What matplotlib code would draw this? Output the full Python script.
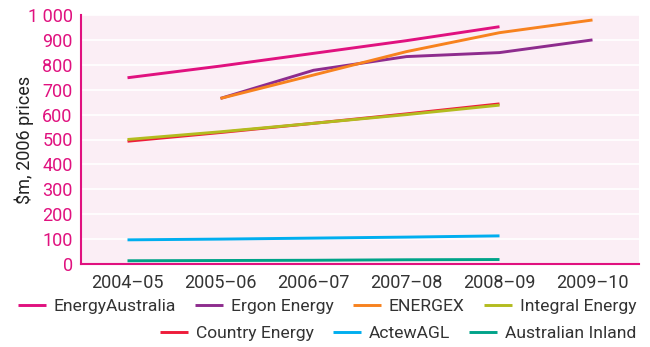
import numpy as np
import matplotlib.pyplot as plt
from matplotlib.ticker import FuncFormatter

plt.rcParams['font.family'] = ['Roboto', 'DejaVu Sans']

years = ['2004–05', '2005–06', '2006–07', '2007–08', '2008–09', '2009–10']

energy_australia = [748, 795, 846, 897, 953]
ergon = [np.nan, 665, 778, 833, 849, 900]
energex = [np.nan, 665, 759, 853, 929, 980]
integral = [500, 531, 565, 600, 638]
country = [493, 528, 565, 603, 643]
actew = [97, 100, 104, 108, 113]
inland = [13, 14, 15, 17, 18]

series = [
    ('EnergyAustralia', energy_australia, '#e0117f'),
    ('Ergon Energy', ergon, '#8e2c8e'),
    ('ENERGEX', energex, '#f7821f'),
    ('Country Energy', country, '#ee1c3a'),
    ('Integral Energy', integral, '#b3bc1f'),
    ('ActewAGL', actew, '#00aeef'),
    ('Australian Inland', inland, '#00a389'),
]

pink = '#e0117f'

fig = plt.figure(figsize=(6.5, 3.47), dpi=100)
ax = fig.add_axes([81 / 650, 1 - 264 / 347, 558 / 650, 249 / 347])
ax.set_facecolor('#fbeef5')

handles = {}
for name, vals, col in series:
    x = np.arange(len(vals))
    h, = ax.plot(x, vals, color=col, lw=2.1, solid_capstyle='butt')
    handles[name] = h

ax.set_xlim(-0.5, 5.5)
ax.set_ylim(0, 1000)
ax.set_xticks(range(len(years)))
ax.set_xticklabels(years)
ax.set_yticks(np.arange(0, 1001, 100))
ax.yaxis.set_major_formatter(FuncFormatter(lambda v, p: f'{int(v):,}'.replace(',', ' ')))
ax.grid(axis='y', color='white', lw=1.2)
ax.set_axisbelow(True)
ax.tick_params(axis='both', length=0, labelsize=13)
ax.tick_params(axis='y', colors=pink, pad=6)
ax.tick_params(axis='x', colors='#333333', pad=7)
for s in ['top', 'right']:
    ax.spines[s].set_visible(False)
ax.spines['left'].set_color(pink)
ax.spines['bottom'].set_color(pink)
ax.spines['left'].set_linewidth(1.5)
ax.spines['bottom'].set_linewidth(1.5)
ax.set_ylabel('$m, 2006 prices', fontsize=13, color='#222222')
ax.yaxis.set_label_coords(-0.084, 0.5)

row1 = ['EnergyAustralia', 'Ergon Energy', 'ENERGEX', 'Integral Energy']
row2 = ['Country Energy', 'ActewAGL', 'Australian Inland']
kw = dict(frameon=False, fontsize=12.6, handlelength=1.6, handletextpad=0.45,
          columnspacing=1.1, borderpad=0, labelcolor='#333333')
leg1 = fig.legend([handles[n] for n in row1], row1, ncol=4, loc='center right',
                  bbox_to_anchor=(645 / 650, 1 - 306 / 347), **kw)
leg2 = fig.legend([handles[n] for n in row2], row2, ncol=3, loc='center right',
                  bbox_to_anchor=(645 / 650, 1 - 333 / 347), **kw)

fig.savefig('out.png', dpi=100)
